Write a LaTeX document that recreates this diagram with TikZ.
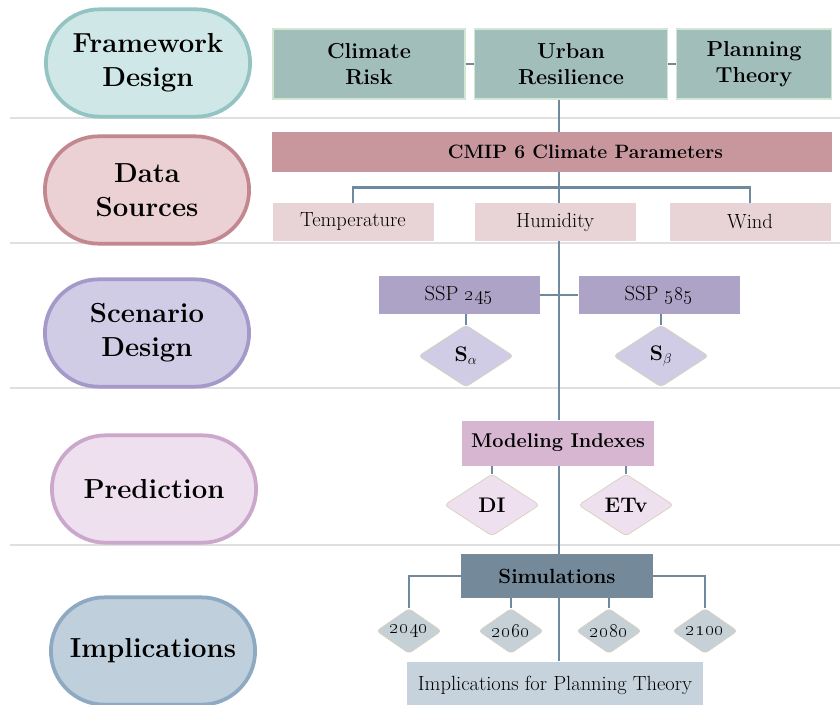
\documentclass[tikz,border=0pt]{standalone}
\usepackage{tikz}
\usetikzlibrary{shapes,arrows}
\usetikzlibrary{shapes.geometric}
\usetikzlibrary{shapes.misc}
\usetikzlibrary{calc}
\definecolor{linkC}{HTML}{6F8A9E}
\definecolor{frameF}{HTML}{CFE7E6}
\definecolor{frameD}{HTML}{93C3C2}
\definecolor{frameB}{HTML}{A1BEBB}
\definecolor{frameE}{HTML}{D1E6D3}
\definecolor{dataF}{HTML}{EBD0D4}
\definecolor{dataD}{HTML}{C2878F}
\definecolor{dataB}{HTML}{C8979E}
\definecolor{dataL}{HTML}{E8D3D6}
\definecolor{scenF}{HTML}{D0CCE6}
\definecolor{scenD}{HTML}{A499C8}
\definecolor{scenB}{HTML}{ADA3C7}
\definecolor{predF}{HTML}{EFE0EF}
\definecolor{predD}{HTML}{CBA7CB}
\definecolor{predB}{HTML}{D6B6D0}
\definecolor{implF}{HTML}{BFCFDB}
\definecolor{implD}{HTML}{8EAAC2}
\definecolor{implB}{HTML}{74899A}
\definecolor{implL}{HTML}{C6D2DC}
\definecolor{yearF}{HTML}{C6D1D7}
\definecolor{sandE}{HTML}{D8D0BC}
\tikzstyle{stage} = [rounded rectangle, draw, line width=3.2pt, minimum width=6.36cm,
    minimum height=3.22cm, align=center, text=black,
    font=\fontsize{23.5}{29}\selectfont\bfseries]
\tikzstyle{block} = [rectangle, inner sep=2pt, align=center, text=black,
    font=\fontsize{17.5}{21}\selectfont]
\tikzstyle{topic} = [block, fill=frameB, draw=frameE, line width=1.5pt,
    minimum height=2.1cm, font=\fontsize{18.5}{22}\selectfont\bfseries]
\tikzstyle{param} = [block, fill=dataL, minimum width=4.83cm, minimum height=1.14cm]
\tikzstyle{choice} = [diamond, aspect=1.5, rounded corners=3pt, draw=sandE, line width=0.6pt,
    inner sep=0pt, minimum width=2.85cm, minimum height=1.86cm, text=black,
    font=\fontsize{18}{21}\selectfont\bfseries]
\tikzstyle{year} = [choice, fill=yearF, aspect=1.45, minimum width=1.95cm, minimum height=1.35cm,
    font=\fontsize{18}{21}\selectfont]
\tikzstyle{link} = [draw=linkC, line width=2.4pt]
\tikzstyle{divider} = [draw=black!12, line width=1.5pt]

\begin{document}
\begin{tikzpicture}[x=0.03cm, y=-0.03cm]
    \path [use as bounding box, fill=white] (0,0) rectangle (840,705);

    % row separators
    \foreach \yy in {118,243,388,545}
      \draw [divider] (10,\yy) -- (840,\yy);

    % stages on the left
    \node [stage, fill=frameF, draw=frameD] (framework) at (148,63) {Framework\\Design};
    \node [stage, fill=dataF, draw=dataD] (sources) at (147,190) {Data\\Sources};
    \node [stage, fill=scenF, draw=scenD] (scenario) at (147,333) {Scenario\\Design};
    \node [stage, fill=predF, draw=predD] (prediction) at (154,489) {Prediction};
    \node [stage, fill=implF, draw=implD] (implications) at (153,651) {Implications};

    % framework
    \node [topic, minimum width=5.76cm] (risk) at (369,64) {Climate\\Risk};
    \node [topic, minimum width=5.79cm] (urban) at (571,64) {Urban\\Resilience};
    \node [topic, minimum width=4.65cm] (theory) at (754,64) {Planning\\Theory};
    \coordinate (trunk) at (559,0);

    % data sources
    \node [block, fill=dataB, minimum width=16.77cm, minimum height=1.17cm,
        font=\fontsize{16.5}{20}\selectfont\bfseries] (cmip) at (552,152) {\hspace*{2cm}CMIP 6 Climate Parameters};
    \node [param] (temp) at (353,222) {Temperature};
    \node [param] (humid) at (555,222) {Humidity};
    \node [param] (wind) at (750,222) {Wind};

    % scenarios
    \node [block, fill=scenB, minimum width=4.83cm, minimum height=1.14cm] (ssplow) at (459,295) {SSP \oldstylenums{245}};
    \node [block, fill=scenB, minimum width=4.83cm, minimum height=1.14cm] (ssphigh) at (659,295) {SSP \oldstylenums{585}};
    \node [choice, fill=scenF] (salpha) at (466,356) {S$_{\alpha}$};
    \node [choice, fill=scenF] (sbeta) at (661,356) {S$_{\beta}$};

    % prediction
    \node [block, fill=predB, minimum width=5.76cm, minimum height=1.35cm,
        font=\fontsize{17}{20}\selectfont\bfseries] (modidx) at (558,443) {Modeling Indexes};
    \node [choice, fill=predF] (di) at (492,505) {DI};
    \node [choice, fill=predF] (etv) at (626,505) {ETv};

    % implications
    \node [block, fill=implB, minimum width=5.76cm, minimum height=1.32cm,
        font=\fontsize{17.5}{20}\selectfont\bfseries] (sim) at (557,576) {Simulations};
    \node [year] (y2040) at (409,631) {\oldstylenums{2040}};
    \node [year] (y2060) at (511,631) {\oldstylenums{2060}};
    \node [year] (y2080) at (609,631) {\oldstylenums{2080}};
    \node [year] (y2100) at (705,631) {\oldstylenums{2100}};
    \node [block, fill=implL, minimum width=8.88cm, minimum height=1.4cm] (impl) at (555,685) {Implications for Planning Theory};

    % connectors
    \draw [link] (risk.east) -- (urban.west);
    \draw [link] (urban.east) -- (theory.west);
    \draw [link] (urban.south -| trunk) -- (cmip.north -| trunk);
    \draw [link] (cmip.south -| trunk) -- (humid.north -| trunk);
    \draw [link] (temp.north) |- ($(cmip.south)+(0,16)$) -| (wind.north);
    \draw [link] (humid.south -| trunk) -- (modidx.north -| trunk);
    \draw [link] (ssplow.east) -- (ssphigh.west);
    \draw [link] (salpha.north) -- (salpha.north |- ssplow.south);
    \draw [link] (sbeta.north) -- (sbeta.north |- ssphigh.south);
    \draw [link] (modidx.south -| trunk) -- (sim.north -| trunk);
    \draw [link] (di.north) -- (di.north |- modidx.south);
    \draw [link] (etv.north) -- (etv.north |- modidx.south);
    \draw [link] (sim.west) -| (y2040.north);
    \draw [link] (sim.east) -| (y2100.north);
    \draw [link] (y2060.north) -- (y2060.north |- sim.south);
    \draw [link] (y2080.north) -- (y2080.north |- sim.south);
    \draw [link] (sim.south -| trunk) -- (impl.north -| trunk);
\end{tikzpicture}
\end{document}
